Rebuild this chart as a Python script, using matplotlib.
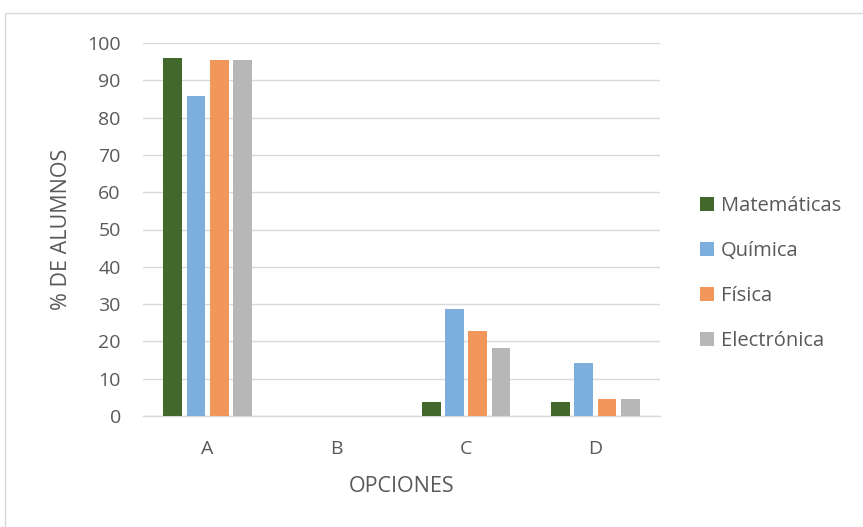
import matplotlib
matplotlib.use("Agg")
import matplotlib.pyplot as plt
import numpy as np
from matplotlib.patches import Rectangle

# Percentage of students choosing each option, per degree
opciones = ["A", "B", "C", "D"]
series = ["Matemáticas", "Química", "Física", "Electrónica"]
matematicas = [96.0, 0, 3.8, 3.8]
quimica = [85.7, 0, 28.6, 14.3]
fisica = [95.5, 0, 22.7, 4.5]
electronica = [95.5, 0, 18.2, 4.5]
colores = ["#43682b", "#7cafdd", "#f1975a", "#b7b7b7"]

plt.rcParams["font.family"] = ["Open Sans", "DejaVu Sans"]
TXT = "#595959"
GRID = "#d9d9d9"

fig = plt.figure(figsize=(8.63, 5.27), dpi=100)
ax = fig.add_axes([143 / 863, 1 - 416 / 527, 517 / 863, 373 / 527])

# light frame around the chart area
fig.patches.append(Rectangle((5 / 863, -0.1), 1.2, 1 - 13 / 527 + 0.1,
                             transform=fig.transFigure, fill=False,
                             edgecolor=GRID, linewidth=1.0))

x = np.arange(len(opciones))
step = 0.18
width = 0.145
for i, (vals, name, col) in enumerate(zip(
        [matematicas, quimica, fisica, electronica], series, colores)):
    ax.bar(x + (i - 1.5) * step, vals, width, color=col, label=name,
           zorder=3)

ax.set_xlim(-0.5, 3.5)
ax.set_ylim(0, 100)
ax.set_yticks(np.arange(0, 101, 10))
ax.set_xticks(x)
ax.set_xticklabels(opciones)
ax.grid(axis="y", color=GRID, linewidth=1.0, zorder=0)
for s in ("top", "right", "left"):
    ax.spines[s].set_visible(False)
ax.spines["bottom"].set_color(GRID)
ax.spines["bottom"].set_linewidth(1.0)
ax.tick_params(length=0, colors=TXT, labelsize=14)
ax.tick_params(axis="x", pad=17)
ax.tick_params(axis="y", pad=16)

ax.set_ylabel("% DE ALUMNOS", color=TXT, fontsize=15.5)
ax.set_xlabel("OPCIONES", color=TXT, fontsize=15.5)
ax.yaxis.set_label_coords(-(143 - 72) / 517, 0.5)
ax.xaxis.set_label_coords(0.5, -(476 - 416) / 373)

ax.legend(loc="center left", bbox_to_anchor=(1.077, 0.382), frameon=False,
          fontsize=14.5, handlelength=0.7, handleheight=0.7,
          handletextpad=0.35, labelspacing=1.25, labelcolor=TXT,
          borderpad=0, borderaxespad=0)

fig.savefig("out.png", dpi=100)
